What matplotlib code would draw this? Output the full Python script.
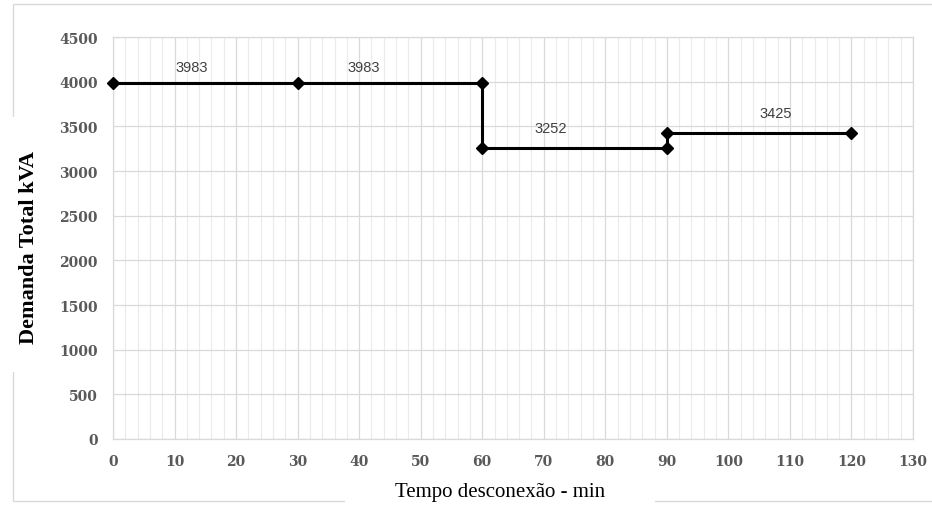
import matplotlib
matplotlib.use("Agg")
import matplotlib.pyplot as plt
from matplotlib.patches import Rectangle
from matplotlib.ticker import MultipleLocator

# ---- data ----
tempo_min = [0, 30, 60, 60, 90, 90, 120]
demanda_kva = [3983, 3983, 3983, 3252, 3252, 3425, 3425]
segment_start = [0, 30, 60, 90]
segment_end = [30, 60, 90, 120]
segment_value = [3983, 3983, 3252, 3425]
x_ticks = list(range(0, 131, 10))
y_ticks = list(range(0, 4501, 500))

# ---- layout / style ----
W, H = 932, 506
fig = plt.figure(figsize=(W / 100, H / 100), dpi=100)
ax = fig.add_axes([113 / W, 1 - 440 / H, 800 / W, 402 / H])

ax.set_xlim(0, 130)
ax.set_ylim(0, 4500)
ax.set_xticks(x_ticks)
ax.set_yticks(y_ticks)
ax.xaxis.set_minor_locator(MultipleLocator(2))

ax.grid(True, which='major', axis='both', color='#d9d9d9', lw=0.9)
ax.grid(True, which='minor', axis='x', color='#ebebeb', lw=0.8)
ax.set_axisbelow(True)
for s in ax.spines.values():
    s.set_color('#d9d9d9')
    s.set_linewidth(0.9)

ax.tick_params(axis='both', which='both', length=0, colors='#595959')
ax.tick_params(axis='x', pad=11)
ax.tick_params(axis='y', pad=11)
for lab in ax.get_xticklabels() + ax.get_yticklabels():
    lab.set_fontfamily('DejaVu Serif')
    lab.set_fontweight('bold')
    lab.set_fontsize(10)

ax.plot(tempo_min, demanda_kva, color='black', lw=2.2, marker='D',
        markersize=6.5, markerfacecolor='black', markeredgecolor='black',
        zorder=3, clip_on=False)

# data labels
label_dx = [-13.5, -26.5, -23.5, 16.5]   # pixel offsets from segment midpoint
label_dy = [16, 16, 20.5, 20.5]
for xs, xe, v, dx, dy in zip(segment_start, segment_end, segment_value, label_dx, label_dy):
    ax.annotate(str(v), xy=((xs + xe) / 2, v), xytext=(dx, dy),
                textcoords='offset pixels', ha='center', va='center',
                fontfamily='Liberation Sans', fontsize=10.5, color='#404040')

ax.set_xlabel('Tempo desconexão - min', fontfamily='Liberation Serif',
              fontsize=15, color='black', va='center')
ax.xaxis.set_label_coords((500 - 113) / 800, (440 - 493) / 402)
ax.set_ylabel('Demanda Total kVA', fontfamily='Liberation Serif',
              fontweight='bold', fontsize=16, color='black', va='center', ha='center')
ax.yaxis.set_label_coords((29.5 - 113) / 800, (440 - 247.5) / 402)

# chart-area border and white patches around axis titles (drawn beneath the axes)
fig.add_artist(Rectangle((12.5 / W, 1 - 501.5 / H), (W + 20) / W, (501.5 - 5) / H,
                         transform=fig.transFigure, fill=False,
                         edgecolor='#d9d9d9', lw=1.0, zorder=-2))
fig.add_artist(Rectangle((0, 1 - 373 / H), 45 / W, (373 - 118) / H,
                         transform=fig.transFigure, facecolor='white',
                         edgecolor='none', zorder=-1))
fig.add_artist(Rectangle((345 / W, 0), (655 - 345) / W, 30 / H,
                         transform=fig.transFigure, facecolor='white',
                         edgecolor='none', zorder=-1))

fig.savefig('out.png', dpi=100)
